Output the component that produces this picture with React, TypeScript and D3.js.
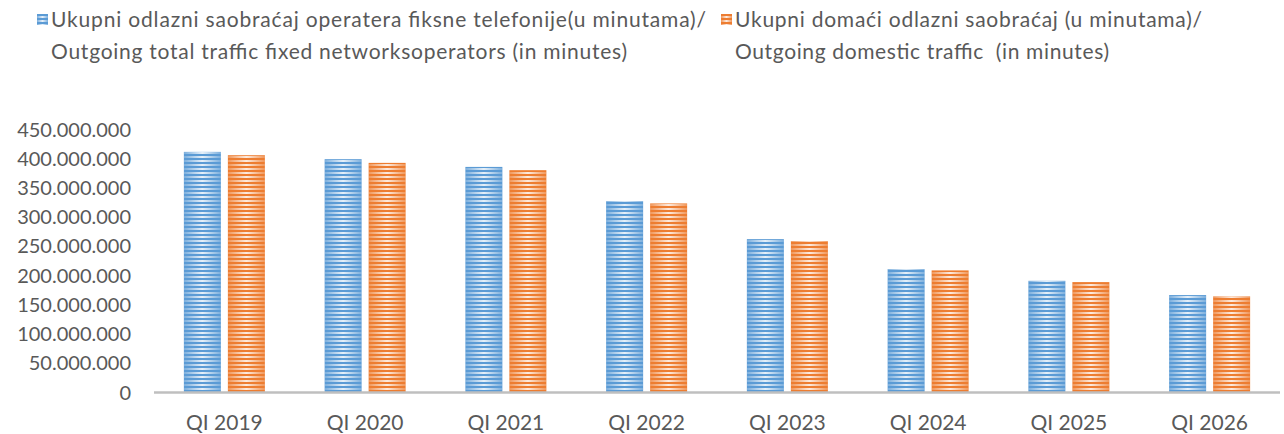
import React from "react";
import * as d3 from "d3";

const categories = ["QI 2019", "QI 2020", "QI 2021", "QI 2022", "QI 2023", "QI 2024", "QI 2025", "QI 2026"];
const totalTraffic = [411700000, 399200000, 386000000, 327400000, 262400000, 211100000, 191100000, 166700000];
const domesticTraffic = [406000000, 392900000, 380400000, 323500000, 259000000, 208900000, 188900000, 164500000];
const yTicks = [0, 50000000, 100000000, 150000000, 200000000, 250000000, 300000000, 350000000, 400000000, 450000000];
const seriesNames = [
  ["Ukupni odlazni saobraćaj operatera fiksne telefonije(u minutama)/", "Outgoing total traffic fixed networksoperators (in minutes)"],
  ["Ukupni domaći odlazni saobraćaj (u minutama)/", "Outgoing domestic traffic  (in minutes)"],
];
const legendLineWidths = [
  [655, 576],
  [467, 374],
];
const seriesColors = ["#5B9BD5", "#ED7D31"];

const W = 1284;
const H = 434;
const FONT = "Lato, 'Open Sans', sans-serif";
const TEXT = "#595959";

const locale = d3.formatLocale({ decimal: ",", thousands: ".", grouping: [3], currency: ["", ""] });
const fmt = locale.format(",d");

export default function App() {
  const x0 = d3.scaleBand<string>().domain(categories).range([154, 1280]).paddingInner(0).paddingOuter(0);
  const groupW = 81;
  const x1 = d3.scaleBand<number>().domain([0, 1]).range([0, groupW]).paddingInner(7 / 44).paddingOuter(0);
  const y = d3.scaleLinear().domain([0, 450000000]).range([392.5, 129.5]);
  const series = [totalTraffic, domesticTraffic];
  const offset = (x0.bandwidth() - groupW) / 2;

  const legendX = [37, 721];

  return (
    <svg width={W} height={H} style={{ position: "absolute", left: 0, top: 0, background: "#fff" }} fontFamily={FONT}>
      <defs>
        <pattern id="stripes" patternUnits="userSpaceOnUse" width="20" height="4">
          <rect x="0" y="0" width="20" height="2" fill="white" />
        </pattern>
        <mask id="stripeMask" maskUnits="userSpaceOnUse" x="0" y="0" width={W} height={H}>
          <rect x="0" y="0" width={W} height={H} fill="url(#stripes)" />
        </mask>
        <linearGradient id="shine" x1="0" x2="1" y1="0" y2="0">
          <stop offset="0" stopColor="#fff" stopOpacity="0.2" />
          <stop offset="0.5" stopColor="#fff" stopOpacity="0.85" />
          <stop offset="1" stopColor="#fff" stopOpacity="0.2" />
        </linearGradient>
      </defs>

      {/* Legend */}
      {seriesNames.map((lines, i) => (
        <g key={i}>
          <rect x={legendX[i]} y={14} width={11} height={11} fill={seriesColors[i]} />
          <rect x={legendX[i]} y={14} width={11} height={11} fill="url(#shine)" mask="url(#stripeMask)" />
          {lines.map((t, j) => (
            <text
              key={j}
              x={legendX[i] + 14}
              y={27 + j * 32}
              fontSize={21}
              fill={TEXT}
              textLength={legendLineWidths[i][j]}
              lengthAdjust="spacing"
              style={{ whiteSpace: "pre" }}
            >
              {t}
            </text>
          ))}
        </g>
      ))}

      {/* Y tick labels */}
      {yTicks.map((t) => (
        <text key={t} x={131} y={y(t)} dy="0.35em" textAnchor="end" fontSize={20} fill={TEXT}>
          {fmt(t)}
        </text>
      ))}

      {/* Bars */}
      {categories.map((c, ci) => (
        <g key={c}>
          {series.map((s, si) => {
            const bx = (x0(c) as number) + offset + (x1(si) as number);
            const by = y(s[ci]);
            const bh = y(0) - by;
            return (
              <g key={si}>
                <rect x={bx} y={by} width={x1.bandwidth()} height={bh} fill={seriesColors[si]} />
                <rect x={bx} y={by} width={x1.bandwidth()} height={bh} fill="url(#shine)" mask="url(#stripeMask)" />
              </g>
            );
          })}
        </g>
      ))}

      {/* X axis line */}
      <line x1={154} x2={1280} y1={y(0)} y2={y(0)} stroke="#BFBFBF" strokeWidth={2.5} />

      {/* X labels */}
      {categories.map((c) => (
        <text key={c} x={(x0(c) as number) + x0.bandwidth() / 2} y={429.5} textAnchor="middle" fontSize={21} fill={TEXT}>
          {c}
        </text>
      ))}
    </svg>
  );
}
